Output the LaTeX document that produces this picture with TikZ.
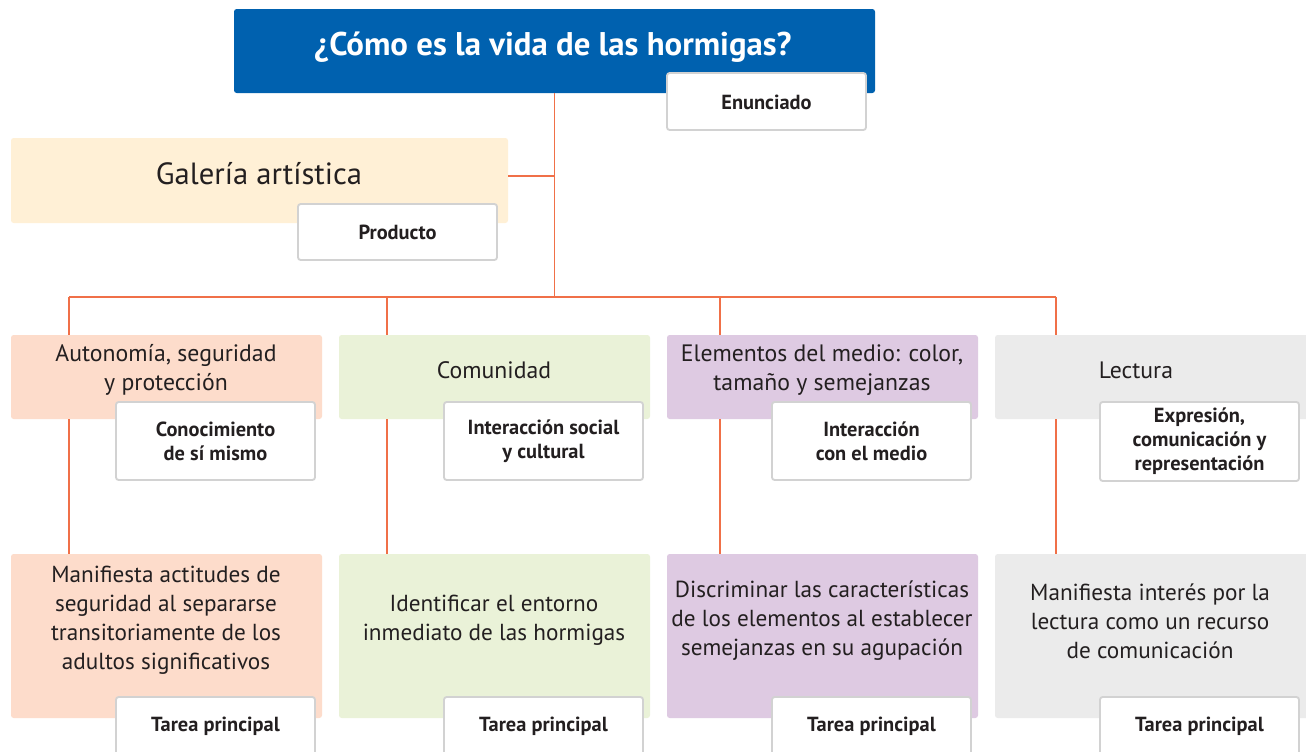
\documentclass[tikz,border=0pt]{standalone}
\usepackage{fontspec}
\setmainfont{PT Sans}
\newfontfamily\titlefont{PT Sans}
\newfontfamily\labelfont{PT Sans}
\usetikzlibrary{fit}
\definecolor{tblue}{HTML}{0061AF}
\definecolor{lorange}{HTML}{F07048}
\definecolor{cpeach}{HTML}{FDDCCB}
\definecolor{cgreen}{HTML}{EAF2D8}
\definecolor{cpurple}{HTML}{DECAE2}
\definecolor{cgray}{HTML}{EBEBEB}
\definecolor{ccream}{HTML}{FFF0D6}
\definecolor{lborder}{HTML}{D2D2D2}
\definecolor{tdark}{HTML}{231F20}
\tikzset{
  panel/.style={inner sep=0pt, rounded corners=2pt, draw=none},
  tagbox/.style={inner sep=0pt, rounded corners=2pt, fill=white, draw=lborder, line width=1.4pt},
  conn/.style={draw=lorange, line width=1.1pt},
  headtxt/.style={text=tdark, align=center, font=\fontsize{17.8}{21.75}\selectfont},
  bodytxt/.style={text=tdark, align=center, font=\fontsize{17.4}{21.75}\selectfont},
  tagtxt/.style={text=tdark, align=center, font=\labelfont\bfseries\fontsize{15.3}{18}\selectfont},
}
\begin{document}
\begin{tikzpicture}[x=0.75pt,y=-0.75pt]
\useasboundingbox (0,0) rectangle (1306,751);
\fill[white] (0,0) rectangle (1306,751);
% title
\node[panel, fill=tblue, fit={(234,9) (875,93)}] (title) {};
\node[text=white, font=\titlefont\bfseries\fontsize{24.6}{28}\selectfont] (titletxt) at (553,47) {¿Cómo es la vida de las hormigas?};
\node[tagbox, fit={(667,73) (866,130)}] (enun) {};
\node[tagtxt] (enuntxt) at (766.5,102) {Enunciado};
% product
\node[panel, fill=ccream, fit={(11,138) (508,223)}] (gal) {};
\node[text=tdark, font=\fontsize{23}{26}\selectfont] (galtxt) at (259,174) {Galería artística};
\node[tagbox, fit={(298,204) (497,260)}] (prod) {};
\node[tagtxt] (prodtxt) at (397.5,232) {Producto};
% headers
\node[panel, fill=cpeach, fit={(11,335) (322,419)}] (h1) {};
\node[panel, fill=cgreen, fit={(339,335) (650,419)}] (h2) {};
\node[panel, fill=cpurple, fit={(667,335) (978,419)}] (h3) {};
\node[panel, fill=cgray, fit={(995,335) (1312,419)}] (h4) {};
\node[headtxt] (h1txt) at (166,370) {Autonomía, seguridad\\y protección};
\node[headtxt] (h2txt) at (494,370) {Comunidad};
\node[headtxt] (h3txt) at (822,370) {Elementos del medio: color,\\tamaño y semejanzas};
\node[headtxt] (h4txt) at (1136,370) {Lectura};
% header tags
\node[tagbox, fit={(116,402) (315,480)}] (t1) {};
\node[tagbox, fit={(444,402) (643,480)}] (t2) {};
\node[tagbox, fit={(772,402) (971,480)}] (t3) {};
\node[tagbox, fit={(1100,402) (1299,481)}] (t4) {};
\node[tagtxt] (t1txt) at (215.5,441) {Conocimiento\\de sí mismo};
\node[tagtxt] (t2txt) at (543.5,441) {Interacción social\\y cultural};
\node[tagtxt] (t3txt) at (871.5,441) {Interacción\\con el medio};
\node[tagtxt] (t4txt) at (1199.5,441) {Expresión,\\comunicación y\\representación};
% bottom boxes
\node[panel, fill=cpeach, fit={(11,554) (322,718)}] (b1) {};
\node[panel, fill=cgreen, fit={(339,554) (650,718)}] (b2) {};
\node[panel, fill=cpurple, fit={(667,554) (978,718)}] (b3) {};
\node[panel, fill=cgray, fit={(995,554) (1312,718)}] (b4) {};
\node[bodytxt] (b1txt) at (166,620) {Manifiesta actitudes de\\seguridad al separarse\\transitoriamente de los\\adultos significativos};
\node[bodytxt] (b2txt) at (494,620) {Identificar el entorno\\inmediato de las hormigas};
\node[bodytxt] (b3txt) at (822,621) {Discriminar las características\\de los elementos al establecer\\semejanzas en su agupación};
\node[bodytxt] (b4txt) at (1150,621) {Manifiesta interés por la\\lectura como un recurso\\de comunicación};
% bottom tags
\node[tagbox, fit={(116,697) (315,770)}] (p1) {};
\node[tagbox, fit={(444,697) (643,770)}] (p2) {};
\node[tagbox, fit={(772,697) (971,770)}] (p3) {};
\node[tagbox, fit={(1100,697) (1299,770)}] (p4) {};
\node[tagtxt] (p1txt) at (215.5,726) {Tarea principal};
\node[tagtxt] (p2txt) at (543.5,726) {Tarea principal};
\node[tagtxt] (p3txt) at (871.5,726) {Tarea principal};
\node[tagtxt] (p4txt) at (1199.5,726) {Tarea principal};
% connectors
\coordinate (bus) at (554.5,297);
\coordinate (d1) at (69,297);
\coordinate (d2) at (387,297);
\coordinate (d3) at (720,297);
\coordinate (d4) at (1056,297);
\draw[conn] (title.south) -- (bus);
\draw[conn] ([yshift=3.4pt]gal.east) -- ([yshift=3.4pt]gal.east -| title.south);
\draw[conn] (d1) -- (d4);
\draw[conn] (d1) -- (d1 |- h1.north);
\draw[conn] (d2) -- (d2 |- h2.north);
\draw[conn] (d3) -- (d3 |- h3.north);
\draw[conn] (d4) -- (d4 |- h4.north);
\draw[conn] (d1 |- h1.south) -- (d1 |- b1.north);
\draw[conn] (d2 |- h2.south) -- (d2 |- b2.north);
\draw[conn] (d3 |- h3.south) -- (d3 |- b3.north);
\draw[conn] (d4 |- h4.south) -- (d4 |- b4.north);
\end{tikzpicture}
\end{document}
